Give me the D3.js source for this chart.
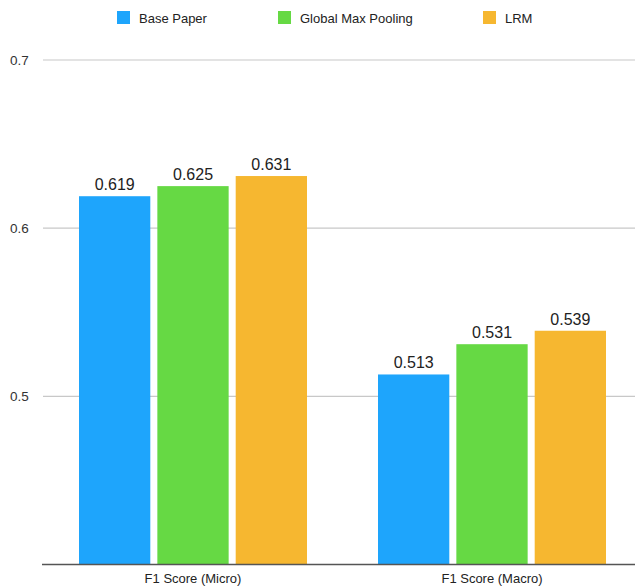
<!DOCTYPE html>
<html lang="en">
<head>
    <meta charset="UTF-8">
    <title>F1 Scores</title>
    <script src="https://d3js.org/d3.v7.min.js"></script>
    <style>
        body { margin: 0; background: #fff; }
        svg { font-family: "Liberation Sans", Arial, sans-serif; }
        .tick-label { font-size: 13.5px; fill: #333; }
        .value-label { font-size: 16px; fill: #222; text-anchor: middle; }
        .cat-label { font-size: 13px; fill: #222; text-anchor: middle; }
        .legend-text { font-size: 13px; fill: #222; }
    </style>
</head>
<body>
    <div id="chart"></div>
    <script>
        const categories = ["F1 Score (Micro)", "F1 Score (Macro)"];
        const series = ["Base Paper", "Global Max Pooling", "LRM"];
        const colors = ["#1ea5fc", "#66d944", "#f6b730"];
        const values = [
            [0.619, 0.625, 0.631],
            [0.513, 0.531, 0.539]
        ];
        const yTicks = [0.5, 0.6, 0.7];

        const width = 635, height = 587;
        const svg = d3.select("#chart").append("svg")
                      .attr("width", width)
                      .attr("height", height);

        const y = d3.scaleLinear().domain([0.4, 0.7]).range([564.5, 60]);
        const x = d3.scaleBand().domain(categories).range([43.5, 641.5]).padding(0);
        const xs = d3.scaleBand().domain(series).range([-114, 114]).paddingInner(0.09).paddingOuter(0);

        // grid lines
        svg.selectAll(".grid")
           .data(yTicks)
           .enter()
           .append("line")
           .attr("x1", 43).attr("x2", width)
           .attr("y1", d => y(d)).attr("y2", d => y(d))
           .attr("stroke", "#c8c8c8").attr("stroke-width", 1.2);

        svg.selectAll(".tick-label")
           .data(yTicks)
           .enter()
           .append("text")
           .attr("class", "tick-label")
           .attr("x", 10)
           .attr("y", d => y(d) + 5)
           .text(d => d.toFixed(1));

        // bars
        const groups = svg.selectAll(".group")
                          .data(categories)
                          .enter()
                          .append("g")
                          .attr("transform", d => `translate(${x(d) + x.bandwidth() / 2},0)`);

        groups.selectAll("rect")
              .data((d, i) => values[i].map((v, j) => ({s: series[j], v: v, c: colors[j]})))
              .enter()
              .append("rect")
              .attr("x", d => xs(d.s))
              .attr("y", d => y(d.v))
              .attr("width", xs.bandwidth())
              .attr("height", d => y(0.4) - y(d.v))
              .attr("fill", d => d.c);

        groups.selectAll(".value-label")
              .data((d, i) => values[i].map((v, j) => ({s: series[j], v: v})))
              .enter()
              .append("text")
              .attr("class", "value-label")
              .attr("x", d => xs(d.s) + xs.bandwidth() / 2)
              .attr("y", d => y(d.v) - 6)
              .text(d => d.v.toFixed(3));

        groups.append("text")
              .attr("class", "cat-label")
              .attr("x", 0)
              .attr("y", 583)
              .text(d => d);

        // baseline
        svg.append("line")
           .attr("x1", 42).attr("x2", width)
           .attr("y1", y(0.4)).attr("y2", y(0.4))
           .attr("stroke", "#555").attr("stroke-width", 1.5);

        // legend
        const legendX = [117, 278, 483];
        const legend = svg.selectAll(".legend")
                          .data(series)
                          .enter()
                          .append("g")
                          .attr("transform", (d, i) => `translate(${legendX[i]},11)`);
        legend.append("rect").attr("width", 13).attr("height", 13).attr("fill", (d, i) => colors[i]);
        legend.append("text").attr("class", "legend-text").attr("x", 22).attr("y", 11.5).text(d => d);
    </script>
</body>
</html>
